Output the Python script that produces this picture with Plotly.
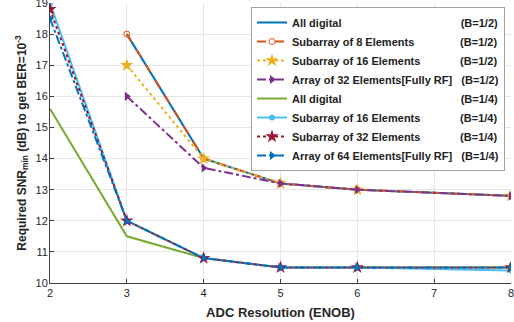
import plotly.graph_objects as go

# ---- data ----
x_half = [3, 4, 5, 6, 8]
x_quarter = [2, 3, 4, 5, 6, 8]

alldig_half = [18.0, 14.0, 13.2, 13.0, 12.8]
sub8_half = [18.0, 14.0, 13.2, 13.0, 12.8]
sub16_half = [17.0, 14.0, 13.2, 13.0, 12.8]
arr32_half = [16.0, 13.7, 13.2, 13.0, 12.8]

x_green = [2, 3, 4, 5, 6, 8]
alldig_quarter = [15.6, 11.5, 10.8, 10.5, 10.5, 10.5]
sub16_quarter = [19.0, 12.0, 10.8, 10.5, 10.5, 10.4]
sub32_quarter = [18.8, 12.0, 10.8, 10.5, 10.5, 10.5]
arr64_quarter = [18.5, 12.0, 10.8, 10.5, 10.5, 10.5]

names = ["All digital", "Subarray of 8 Elements", "Subarray of 16 Elements",
         "Array of 32 Elements[Fully RF]", "All digital", "Subarray of 16 Elements",
         "Subarray of 32 Elements", "Array of 64 Elements[Fully RF]"]
b_labels = ["(B=1/2)"] * 4 + ["(B=1/4)"] * 4
x_ticks = [2, 3, 4, 5, 6, 7, 8]
y_ticks = [10, 11, 12, 13, 14, 15, 16, 17, 18, 19]

# ---- styles ----
specs = [
    (x_half, alldig_half, "#0072BD", "solid", None, None),
    (x_half, sub8_half, "#D95319", "dash", "circle-open", 6),
    (x_half, sub16_half, "#EDB120", "dot", "star", 10),
    (x_half, arr32_half, "#7E2F8E", "dashdot", "triangle-right", 8),
    (x_green, alldig_quarter, "#77AC30", "solid", None, None),
    (x_quarter, sub16_quarter, "#4DBEEE", "solid", "circle", 6),
    (x_quarter, sub32_quarter, "#A2142F", "dot", "star", 10),
    (x_quarter, arr64_quarter, "#0072BD", "dashdot", "triangle-right", 8),
]

# Arial-Bold advance widths (per 1000 em) to right-align the (B=..) column
W = {' ': 278, 'A': 722, 'B': 722, 'E': 667, 'F': 611, 'R': 722, 'S': 667,
     'a': 556, 'b': 611, 'd': 611, 'e': 556, 'f': 333, 'g': 611, 'i': 278, 'l': 278,
     'm': 889, 'n': 611, 'o': 611, 'r': 389, 's': 556, 't': 333, 'u': 611, 'y': 556,
     '[': 333, ']': 333, '(': 333, ')': 333, '=': 584, '/': 278, '\u00a0': 278}
for d in "0123456789":
    W[d] = 556


def width(s):
    return sum(W.get(c, 556) for c in s)


target = max(width(n) for n in names) + width("(B=1/2)") + 3 * 278
legend_names = []
for n, b in zip(names, b_labels):
    k = max(1, round((target - width(n) - width(b)) / 278))
    legend_names.append("<b>" + n + "\u00a0" * k + b + "</b>")

fig = go.Figure()
for (xs, ys, col, dash, sym, sz), nm in zip(specs, legend_names):
    mode = "lines+markers" if sym else "lines"
    marker = dict(symbol=sym, size=sz, color=col) if sym else None
    fig.add_trace(go.Scatter(x=xs, y=ys, mode=mode, name=nm,
                             line=dict(color=col, width=2, dash=dash),
                             marker=marker))

font_fam = "Liberation Sans, Arial, sans-serif"

fig.update_layout(
    width=514, height=322,
    margin=dict(l=50, r=3, t=3, b=39),
    paper_bgcolor="white", plot_bgcolor="white",
    font=dict(family=font_fam, size=11, color="#262626"),
    showlegend=True,
    legend=dict(x=(251 - 50) / 461, y=1 - (7 - 3) / 280, xanchor="left", yanchor="top",
                bgcolor="white", bordercolor="#a0a0a0", borderwidth=1,
                font=dict(family=font_fam, size=11, color="#222"),
                tracegroupgap=0, itemwidth=30),
)

fig.update_xaxes(range=[2, 8], tickvals=x_ticks, showgrid=True, gridcolor="#e6e6e6",
                 showline=True, linecolor="#404040", linewidth=1, ticks="inside",
                 ticklen=4, tickcolor="#404040", zeroline=False, automargin=False,
                 ticklabeloverflow="allow",
                 tickfont=dict(size=11, family=font_fam),
                 tickprefix="<b>", ticksuffix="</b>",
                 title=dict(text="<b>ADC Resolution (ENOB)</b>", font=dict(size=13), standoff=9))
fig.update_yaxes(range=[10, 19], tickvals=y_ticks, showgrid=True, gridcolor="#e6e6e6",
                 showline=True, linecolor="#404040", linewidth=1, ticks="inside",
                 ticklen=4, tickcolor="#404040", zeroline=False, automargin=False,
                 ticklabeloverflow="allow", ticklabelstandoff=-1,
                 tickfont=dict(size=11, family=font_fam),
                 tickprefix="<b>", ticksuffix="</b>",
                 title=dict(text="<b>Required SNR<sub>min</sub> (dB) to get BER=10<sup>-3</sup></b>",
                            font=dict(size=12), standoff=6))

fig.write_html("out.html", post_script="document.body.style.margin='0px';",
               config={"displayModeBar": False})
